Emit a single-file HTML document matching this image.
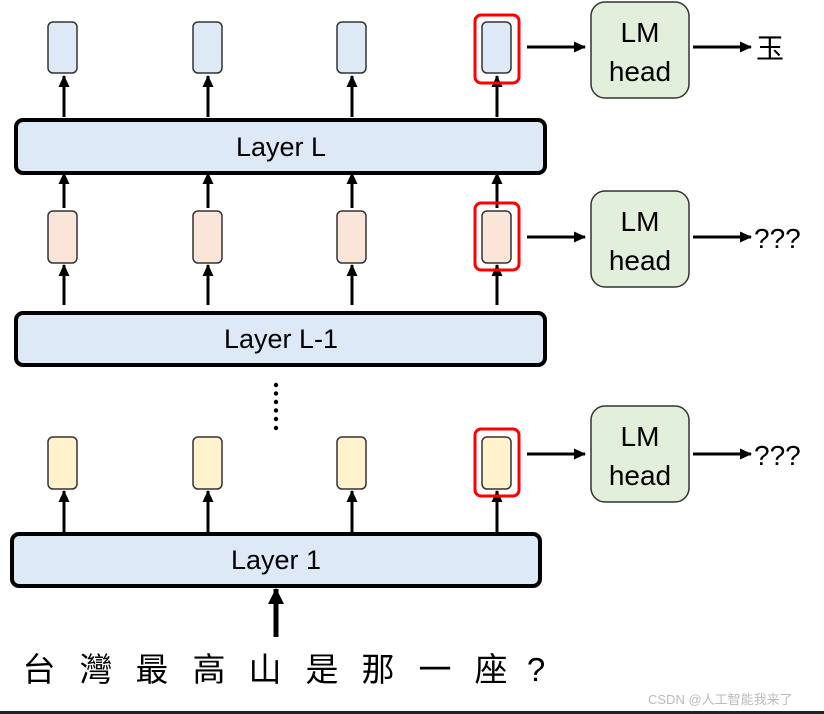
<!DOCTYPE html>
<html><head><meta charset="utf-8">
<style>
html,body{margin:0;padding:0;background:#fff;}
svg{display:block;}
text{font-family:"Liberation Sans","Noto Sans CJK TC",sans-serif;}
</style></head>
<body>
<svg width="824" height="714" viewBox="0 0 824 714" xmlns="http://www.w3.org/2000/svg">
<defs>
<marker id="ah" markerWidth="12" markerHeight="11" refX="11" refY="5.5" orient="auto" markerUnits="userSpaceOnUse">
<path d="M0,0 L12,5.5 L0,11 z" fill="#000"/>
</marker>
<marker id="ahs" markerWidth="16" markerHeight="16" refX="15" refY="8" orient="auto" markerUnits="userSpaceOnUse">
<path d="M0,0 L16,8 L0,16 z" fill="#000"/>
</marker>
</defs>
<g stroke="#000" stroke-width="3">
<line x1="64" y1="117" x2="64" y2="76" marker-end="url(#ah)"/>
<line x1="208" y1="117" x2="208" y2="76" marker-end="url(#ah)"/>
<line x1="352" y1="117" x2="352" y2="76" marker-end="url(#ah)"/>
<line x1="497" y1="117" x2="497" y2="76" marker-end="url(#ah)"/>
<line x1="64" y1="208" x2="64" y2="173" marker-end="url(#ah)"/>
<line x1="208" y1="208" x2="208" y2="173" marker-end="url(#ah)"/>
<line x1="352" y1="208" x2="352" y2="173" marker-end="url(#ah)"/>
<line x1="497" y1="208" x2="497" y2="173" marker-end="url(#ah)"/>
<line x1="64" y1="305" x2="64" y2="265" marker-end="url(#ah)"/>
<line x1="208" y1="305" x2="208" y2="265" marker-end="url(#ah)"/>
<line x1="352" y1="305" x2="352" y2="265" marker-end="url(#ah)"/>
<line x1="497" y1="305" x2="497" y2="265" marker-end="url(#ah)"/>
<line x1="64" y1="532" x2="64" y2="491" marker-end="url(#ah)"/>
<line x1="208" y1="532" x2="208" y2="491" marker-end="url(#ah)"/>
<line x1="352" y1="532" x2="352" y2="491" marker-end="url(#ah)"/>
<line x1="497" y1="532" x2="497" y2="491" marker-end="url(#ah)"/>
<line x1="527" y1="47" x2="585" y2="47" marker-end="url(#ah)"/>
<line x1="693" y1="47" x2="751" y2="47" marker-end="url(#ah)"/>
<line x1="527" y1="237" x2="585" y2="237" marker-end="url(#ah)"/>
<line x1="693" y1="237" x2="751" y2="237" marker-end="url(#ah)"/>
<line x1="527" y1="454" x2="585" y2="454" marker-end="url(#ah)"/>
<line x1="693" y1="454" x2="751" y2="454" marker-end="url(#ah)"/>
<line x1="276" y1="637" x2="276" y2="589" stroke-width="5" marker-end="url(#ahs)"/>
</g>
<g stroke="#333" stroke-width="1.5" fill="#dde9f6">
<rect x="48" y="22" width="29" height="51" rx="5"/>
<rect x="193" y="22" width="29" height="51" rx="5"/>
<rect x="337" y="22" width="29" height="51" rx="5"/>
<rect x="482" y="22" width="29" height="51" rx="5"/>
</g>
<g stroke="#333" stroke-width="1.5" fill="#fbe5d8">
<rect x="48" y="211" width="29" height="52" rx="5"/>
<rect x="193" y="211" width="29" height="52" rx="5"/>
<rect x="337" y="211" width="29" height="52" rx="5"/>
<rect x="482" y="211" width="29" height="52" rx="5"/>
</g>
<g stroke="#333" stroke-width="1.5" fill="#fff2cd">
<rect x="48" y="437" width="29" height="52" rx="5"/>
<rect x="193" y="437" width="29" height="52" rx="5"/>
<rect x="337" y="437" width="29" height="52" rx="5"/>
<rect x="482" y="437" width="29" height="52" rx="5"/>
</g>
<g stroke="#ff0000" stroke-width="3" fill="none">
<rect x="475" y="15" width="44" height="68" rx="6"/>
<rect x="475" y="203" width="44" height="67" rx="6"/>
<rect x="475" y="429" width="44" height="67" rx="6"/>
</g>
<g stroke="#000" stroke-width="4" fill="#dde9f6">
<rect x="16" y="120" width="529" height="53" rx="7"/>
<rect x="16" y="313" width="529" height="52" rx="7"/>
<rect x="12" y="534" width="528" height="52" rx="7"/>
</g>
<g font-size="27" fill="#000" text-anchor="middle">
<text x="281" y="156">Layer L</text>
<text x="281" y="348">Layer L-1</text>
<text x="276" y="569">Layer 1</text>
</g>
<g fill="#000">
<circle cx="276" cy="385" r="2.2"/><circle cx="276" cy="393.5" r="2.2"/><circle cx="276" cy="402" r="2.2"/>
<circle cx="276" cy="410.5" r="2.2"/><circle cx="276" cy="419" r="2.2"/><circle cx="276" cy="428" r="2.2"/>
</g>
<g stroke="#333" stroke-width="1.5" fill="#e2efda">
<rect x="591" y="2" width="98" height="96" rx="14"/>
<rect x="591" y="191" width="98" height="96" rx="14"/>
<rect x="591" y="406" width="98" height="96" rx="14"/>
</g>
<g font-size="28" fill="#000" text-anchor="middle">
<text x="640" y="42">LM</text><text x="640" y="81">head</text>
<text x="640" y="231">LM</text><text x="640" y="270">head</text>
<text x="640" y="446">LM</text><text x="640" y="485">head</text>
</g>
<g font-size="28" fill="#000">
<text x="756" y="58">玉</text>
<text x="754" y="248">???</text>
<text x="754" y="465">???</text>
</g>
<g font-size="33" fill="#000" text-anchor="middle">
<text x="39" y="681">台</text>
<text x="96" y="681">灣</text>
<text x="152" y="681">最</text>
<text x="209" y="681">高</text>
<text x="265" y="681">山</text>
<text x="322" y="681">是</text>
<text x="378" y="681">那</text>
<text x="435" y="681">一</text>
<text x="491" y="681">座</text>
<text x="536" y="681">?</text>
</g>
<text x="648" y="704" font-size="13" fill="#bbb">CSDN @人工智能我来了</text>
<rect x="0" y="711" width="824" height="3" fill="#222"/>
</svg>
</body></html>
